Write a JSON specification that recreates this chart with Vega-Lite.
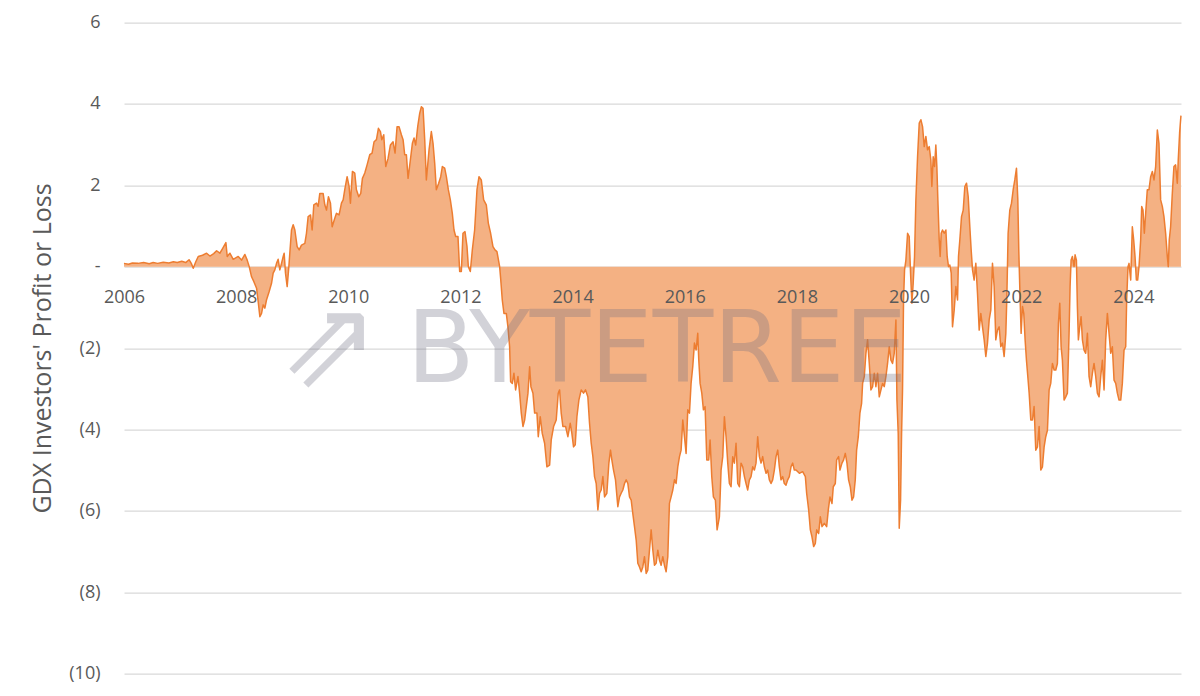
{
  "$schema": "https://vega.github.io/schema/vega-lite/v6.json",
  "width": 1057,
  "height": 651,
  "autosize": {"type": "none"},
  "padding": {"left": 124, "top": 22.5, "right": 19, "bottom": 22.5},
  "background": "white",
  "config": {"view": {"stroke": null}},
  "datasets": {
    "watermark": [
      {"year": 2015.505, "value": -2.836, "label": "BYTETREE"}
    ],
    "logo": [
      {"year": 2009.66, "value": -1.99, "label": "⇗"}
    ],
    "series": [
      {"year":2006.000,"value":0.08},{"year":2006.080,"value":0.06},{"year":2006.150,"value":0.09},{"year":2006.250,"value":0.08},{"year":2006.350,"value":0.10},{"year":2006.450,"value":0.07},{"year":2006.520,"value":0.10},{"year":2006.600,"value":0.08},{"year":2006.700,"value":0.11},{"year":2006.800,"value":0.09},{"year":2006.880,"value":0.12},{"year":2006.950,"value":0.10},{"year":2007.030,"value":0.13},{"year":2007.100,"value":0.10},{"year":2007.160,"value":0.17},{"year":2007.200,"value":0.08},{"year":2007.235,"value":-0.04},{"year":2007.280,"value":0.12},{"year":2007.324,"value":0.25},{"year":2007.400,"value":0.28},{"year":2007.473,"value":0.33},{"year":2007.532,"value":0.26},{"year":2007.600,"value":0.32},{"year":2007.651,"value":0.39},{"year":2007.710,"value":0.33},{"year":2007.760,"value":0.45},{"year":2007.817,"value":0.59},{"year":2007.841,"value":0.25},{"year":2007.888,"value":0.33},{"year":2007.948,"value":0.18},{"year":2008.037,"value":0.25},{"year":2008.097,"value":0.16},{"year":2008.156,"value":0.30},{"year":2008.197,"value":0.16},{"year":2008.233,"value":0.00},{"year":2008.275,"value":-0.25},{"year":2008.316,"value":-0.37},{"year":2008.364,"value":-0.53},{"year":2008.393,"value":-0.86},{"year":2008.423,"value":-1.23},{"year":2008.453,"value":-1.15},{"year":2008.482,"value":-0.94},{"year":2008.512,"value":-1.02},{"year":2008.541,"value":-0.82},{"year":2008.589,"value":-0.61},{"year":2008.631,"value":-0.41},{"year":2008.660,"value":-0.16},{"year":2008.690,"value":-0.08},{"year":2008.720,"value":0.08},{"year":2008.749,"value":0.18},{"year":2008.779,"value":-0.08},{"year":2008.809,"value":0.08},{"year":2008.839,"value":0.25},{"year":2008.856,"value":0.33},{"year":2008.880,"value":-0.16},{"year":2008.910,"value":-0.49},{"year":2008.940,"value":0.00},{"year":2008.957,"value":0.33},{"year":2008.987,"value":0.90},{"year":2009.017,"value":1.03},
      {"year":2009.047,"value":0.90},{"year":2009.088,"value":0.49},{"year":2009.124,"value":0.41},{"year":2009.165,"value":0.53},{"year":2009.225,"value":0.57},{"year":2009.254,"value":0.82},{"year":2009.284,"value":1.23},{"year":2009.326,"value":1.27},{"year":2009.355,"value":0.90},{"year":2009.385,"value":1.52},{"year":2009.433,"value":1.56},{"year":2009.462,"value":1.48},{"year":2009.492,"value":1.80},{"year":2009.551,"value":1.80},{"year":2009.581,"value":1.52},{"year":2009.611,"value":1.39},{"year":2009.646,"value":1.72},{"year":2009.682,"value":1.56},{"year":2009.712,"value":0.98},{"year":2009.759,"value":1.19},{"year":2009.789,"value":1.31},{"year":2009.836,"value":1.27},{"year":2009.878,"value":1.56},{"year":2009.908,"value":1.64},{"year":2009.937,"value":1.89},{"year":2009.979,"value":2.21},{"year":2010.014,"value":1.97},{"year":2010.038,"value":1.56},{"year":2010.074,"value":2.34},{"year":2010.115,"value":2.30},{"year":2010.145,"value":1.89},{"year":2010.187,"value":1.72},{"year":2010.222,"value":1.80},{"year":2010.252,"value":2.17},{"year":2010.294,"value":2.30},{"year":2010.335,"value":2.50},{"year":2010.383,"value":2.75},{"year":2010.424,"value":2.79},{"year":2010.460,"value":3.07},{"year":2010.502,"value":3.12},{"year":2010.537,"value":3.40},{"year":2010.573,"value":3.32},{"year":2010.597,"value":3.12},{"year":2010.632,"value":3.24},{"year":2010.668,"value":2.46},{"year":2010.709,"value":2.66},{"year":2010.751,"value":2.99},{"year":2010.798,"value":3.07},{"year":2010.834,"value":2.79},{"year":2010.870,"value":3.44},{"year":2010.905,"value":3.44},{"year":2010.947,"value":3.24},{"year":2010.977,"value":3.12},{"year":2011.006,"value":2.75},{"year":2011.036,"value":2.75},{"year":2011.066,"value":2.17},{"year":2011.107,"value":2.62},{"year":2011.143,"value":3.03},{"year":2011.173,"value":3.16},{"year":2011.202,"value":2.99},{"year":2011.238,"value":3.44},{"year":2011.274,"value":3.77},{"year":2011.303,"value":3.93},{"year":2011.333,"value":3.89},{"year":2011.363,"value":3.12},{"year":2011.392,"value":2.13},{"year":2011.440,"value":2.87},{"year":2011.481,"value":3.32},{"year":2011.511,"value":3.03},{"year":2011.541,"value":2.54},{"year":2011.570,"value":1.89},{"year":2011.612,"value":2.05},{"year":2011.648,"value":2.21},{"year":2011.677,"value":2.46},{"year":2011.719,"value":2.42},{"year":2011.749,"value":2.21},{"year":2011.784,"value":1.89},{"year":2011.820,"value":1.64},{"year":2011.855,"value":1.31},{"year":2011.885,"value":0.90},{"year":2011.915,"value":0.74},{"year":2011.956,"value":0.74},{"year":2011.986,"value":-0.12},{"year":2012.016,"value":-0.12},{"year":2012.045,"value":0.82},{"year":2012.081,"value":0.86},{"year":2012.117,"value":0.49},{"year":2012.141,"value":0.00},{"year":2012.176,"value":-0.12},{"year":2012.212,"value":0.41},{"year":2012.253,"value":0.90},{"year":2012.295,"value":1.89},{"year":2012.331,"value":2.21},{"year":2012.372,"value":2.13},{"year":2012.414,"value":1.64},{"year":2012.461,"value":1.52},{"year":2012.497,"value":1.07},{"year":2012.538,"value":0.82},{"year":2012.580,"value":0.49},{"year":2012.616,"value":0.41},{"year":2012.651,"value":0.37},{"year":2012.699,"value":0.00},
      {"year":2012.717,"value":-0.29},{"year":2012.746,"value":-0.82},{"year":2012.776,"value":-1.15},{"year":2012.818,"value":-1.15},{"year":2012.847,"value":-1.48},{"year":2012.877,"value":-1.97},{"year":2012.895,"value":-2.83},{"year":2012.925,"value":-2.87},{"year":2012.954,"value":-2.62},{"year":2012.984,"value":-3.03},{"year":2013.026,"value":-2.70},{"year":2013.055,"value":-3.11},{"year":2013.085,"value":-3.60},{"year":2013.115,"value":-3.93},{"year":2013.145,"value":-3.77},{"year":2013.174,"value":-3.44},{"year":2013.204,"value":-3.11},{"year":2013.234,"value":-2.46},{"year":2013.257,"value":-2.95},{"year":2013.293,"value":-3.11},{"year":2013.323,"value":-3.60},{"year":2013.364,"value":-3.60},{"year":2013.388,"value":-4.18},{"year":2013.423,"value":-3.69},{"year":2013.459,"value":-4.10},{"year":2013.501,"value":-4.34},{"year":2013.542,"value":-4.92},{"year":2013.590,"value":-4.88},{"year":2013.619,"value":-4.26},{"year":2013.661,"value":-3.93},{"year":2013.708,"value":-3.77},{"year":2013.744,"value":-3.11},{"year":2013.768,"value":-3.03},{"year":2013.797,"value":-3.60},{"year":2013.827,"value":-3.93},{"year":2013.875,"value":-3.93},{"year":2013.916,"value":-4.18},{"year":2013.958,"value":-3.85},{"year":2013.987,"value":-4.10},{"year":2014.017,"value":-4.43},{"year":2014.047,"value":-4.38},{"year":2014.077,"value":-3.69},{"year":2014.112,"value":-3.28},{"year":2014.154,"value":-3.03},{"year":2014.195,"value":-3.11},{"year":2014.231,"value":-3.03},
      {"year":2014.272,"value":-3.20},{"year":2014.302,"value":-3.85},{"year":2014.332,"value":-4.34},{"year":2014.362,"value":-4.67},{"year":2014.391,"value":-5.16},{"year":2014.421,"value":-5.33},{"year":2014.451,"value":-5.98},{"year":2014.481,"value":-5.57},{"year":2014.510,"value":-5.49},{"year":2014.540,"value":-5.16},{"year":2014.570,"value":-5.66},{"year":2014.611,"value":-5.57},{"year":2014.647,"value":-4.83},{"year":2014.676,"value":-4.51},{"year":2014.700,"value":-4.75},{"year":2014.730,"value":-5.00},{"year":2014.765,"value":-5.24},{"year":2014.807,"value":-5.90},{"year":2014.837,"value":-5.66},{"year":2014.866,"value":-5.57},{"year":2014.896,"value":-5.49},{"year":2014.926,"value":-5.33},{"year":2014.956,"value":-5.24},{"year":2014.985,"value":-5.33},{"year":2015.015,"value":-5.66},{"year":2015.045,"value":-5.74},{"year":2015.074,"value":-6.07},{"year":2015.104,"value":-6.39},{"year":2015.134,"value":-6.72},{"year":2015.163,"value":-7.29},{"year":2015.193,"value":-7.38},{"year":2015.223,"value":-7.50},{"year":2015.252,"value":-7.38},{"year":2015.282,"value":-7.13},{"year":2015.312,"value":-7.54},{"year":2015.341,"value":-7.46},{"year":2015.371,"value":-6.97},{"year":2015.401,"value":-6.47},{"year":2015.431,"value":-6.97},{"year":2015.460,"value":-7.34},{"year":2015.490,"value":-7.29},{"year":2015.520,"value":-6.97},{"year":2015.549,"value":-7.21},{"year":2015.579,"value":-7.34},{"year":2015.609,"value":-7.13},{"year":2015.638,"value":-7.34},{"year":2015.668,"value":-7.50},{"year":2015.698,"value":-7.13},{"year":2015.727,"value":-5.82},{"year":2015.757,"value":-5.66},{"year":2015.787,"value":-5.49},{"year":2015.817,"value":-5.24},{"year":2015.846,"value":-5.33},{"year":2015.876,"value":-4.92},{"year":2015.906,"value":-4.67},{"year":2015.935,"value":-4.51},{"year":2015.965,"value":-3.77},{"year":2015.995,"value":-4.18},{"year":2016.024,"value":-4.59},{"year":2016.054,"value":-3.52},{"year":2016.084,"value":-3.60},{"year":2016.113,"value":-2.87},{"year":2016.143,"value":-2.46},{"year":2016.173,"value":-1.88},{"year":2016.203,"value":-2.05},{"year":2016.232,"value":-1.64},{"year":2016.250,"value":-2.29},{"year":2016.274,"value":-2.87},{"year":2016.304,"value":-3.11},{"year":2016.333,"value":-3.52},{"year":2016.363,"value":-3.44},{"year":2016.393,"value":-4.75},{"year":2016.428,"value":-4.75},{"year":2016.452,"value":-4.26},{"year":2016.482,"value":-5.16},{"year":2016.511,"value":-5.66},{"year":2016.547,"value":-5.74},{"year":2016.577,"value":-6.47},
      {"year":2016.618,"value":-6.15},{"year":2016.648,"value":-5.00},{"year":2016.678,"value":-4.67},{"year":2016.707,"value":-3.69},{"year":2016.737,"value":-4.18},{"year":2016.767,"value":-4.83},{"year":2016.796,"value":-5.33},{"year":2016.826,"value":-5.41},{"year":2016.856,"value":-4.67},{"year":2016.885,"value":-4.83},{"year":2016.915,"value":-4.34},{"year":2016.945,"value":-5.33},{"year":2016.975,"value":-5.41},{"year":2017.004,"value":-4.83},{"year":2017.034,"value":-4.92},{"year":2017.064,"value":-5.16},{"year":2017.093,"value":-5.33},{"year":2017.123,"value":-5.49},{"year":2017.153,"value":-5.24},{"year":2017.182,"value":-5.16},{"year":2017.212,"value":-4.92},{"year":2017.242,"value":-5.00},{"year":2017.271,"value":-4.83},{"year":2017.301,"value":-4.18},{"year":2017.331,"value":-4.67},{"year":2017.361,"value":-4.83},{"year":2017.390,"value":-4.67},{"year":2017.420,"value":-4.92},{"year":2017.450,"value":-5.08},{"year":2017.479,"value":-5.00},{"year":2017.509,"value":-5.24},{"year":2017.539,"value":-5.33},{"year":2017.568,"value":-5.24},{"year":2017.598,"value":-5.00},{"year":2017.628,"value":-4.67},{"year":2017.658,"value":-4.51},{"year":2017.687,"value":-4.92},{"year":2017.717,"value":-5.24},{"year":2017.747,"value":-5.16},{"year":2017.776,"value":-5.33},{"year":2017.806,"value":-5.37},{"year":2017.836,"value":-5.24},{"year":2017.865,"value":-5.16},{"year":2017.895,"value":-4.92},{"year":2017.925,"value":-4.83},{"year":2017.954,"value":-5.00},{"year":2017.984,"value":-5.00},{"year":2018.044,"value":-5.08},{"year":2018.103,"value":-5.04},{"year":2018.151,"value":-5.16},{"year":2018.174,"value":-5.57},{"year":2018.210,"value":-5.98},{"year":2018.240,"value":-6.47},{"year":2018.269,"value":-6.64},{"year":2018.299,"value":-6.88},{"year":2018.329,"value":-6.80},{"year":2018.353,"value":-6.47},{"year":2018.388,"value":-6.56},{"year":2018.418,"value":-6.15},{"year":2018.448,"value":-6.39},{"year":2018.489,"value":-6.31},{"year":2018.531,"value":-6.39},{"year":2018.560,"value":-5.98},{"year":2018.590,"value":-5.66},{"year":2018.626,"value":-5.82},{"year":2018.649,"value":-5.41},{"year":2018.685,"value":-5.33},{"year":2018.709,"value":-4.75},{"year":2018.744,"value":-4.67},{"year":2018.768,"value":-5.00},{"year":2018.804,"value":-4.83},{"year":2018.833,"value":-4.75},{"year":2018.863,"value":-4.59},{"year":2018.893,"value":-4.83},{"year":2018.922,"value":-5.24},{"year":2018.952,"value":-5.41},{"year":2018.982,"value":-5.74},{"year":2019.011,"value":-5.66},{"year":2019.041,"value":-5.24},{"year":2019.065,"value":-4.51},{"year":2019.095,"value":-4.18},{"year":2019.124,"value":-3.60},{"year":2019.154,"value":-3.36},{"year":2019.172,"value":-2.87},{"year":2019.202,"value":-2.70},
      {"year":2019.231,"value":-2.13},{"year":2019.261,"value":-1.80},{"year":2019.291,"value":-2.38},{"year":2019.320,"value":-3.03},{"year":2019.350,"value":-2.95},{"year":2019.380,"value":-2.62},{"year":2019.409,"value":-2.95},{"year":2019.439,"value":-2.62},{"year":2019.469,"value":-3.20},{"year":2019.499,"value":-3.03},{"year":2019.528,"value":-2.87},{"year":2019.558,"value":-2.95},{"year":2019.588,"value":-2.70},{"year":2019.617,"value":-2.38},{"year":2019.647,"value":-1.97},{"year":2019.677,"value":-2.30},{"year":2019.706,"value":-2.38},{"year":2019.736,"value":-2.13},{"year":2019.766,"value":-1.31},{"year":2019.784,"value":-3.28},{"year":2019.807,"value":-4.10},{"year":2019.825,"value":-6.43},{"year":2019.849,"value":-5.74},{"year":2019.867,"value":-4.10},{"year":2019.884,"value":-3.03},{"year":2019.902,"value":-0.82},{"year":2019.920,"value":-0.08},{"year":2019.944,"value":0.16},{"year":2019.974,"value":0.82},{"year":2020.003,"value":0.74},{"year":2020.027,"value":-0.16},{"year":2020.051,"value":-0.90},{"year":2020.074,"value":-0.41},{"year":2020.098,"value":0.25},{"year":2020.122,"value":1.64},{"year":2020.152,"value":2.70},{"year":2020.182,"value":3.53},{"year":2020.211,"value":3.61},{"year":2020.241,"value":3.44},{"year":2020.271,"value":2.95},{"year":2020.300,"value":3.20},{"year":2020.330,"value":2.87},{"year":2020.360,"value":2.95},{"year":2020.389,"value":2.62},{"year":2020.407,"value":1.97},{"year":2020.431,"value":2.70},{"year":2020.455,"value":2.46},{"year":2020.478,"value":2.99},{"year":2020.496,"value":2.46},{"year":2020.514,"value":1.64},{"year":2020.538,"value":0.66},{"year":2020.555,"value":0.25},{"year":2020.573,"value":0.82},{"year":2020.597,"value":0.90},{"year":2020.627,"value":0.82},{"year":2020.657,"value":0.90},{"year":2020.680,"value":0.25},{"year":2020.704,"value":0.00},{"year":2020.728,"value":0.04},{"year":2020.752,"value":-0.16},{"year":2020.775,"value":-1.48},{"year":2020.805,"value":-1.07},{"year":2020.835,"value":-0.49},{"year":2020.865,"value":-0.82},{"year":2020.882,"value":0.25},{"year":2020.906,"value":0.66},{"year":2020.936,"value":1.23},{"year":2020.966,"value":1.39},{"year":2020.995,"value":1.97},{"year":2021.025,"value":2.05},{"year":2021.055,"value":1.72},{"year":2021.084,"value":0.98},{"year":2021.108,"value":0.41},{"year":2021.132,"value":-0.08},{"year":2021.161,"value":-0.33},{"year":2021.191,"value":0.08},{"year":2021.221,"value":-0.66},{"year":2021.251,"value":-1.56},{"year":2021.280,"value":-1.15},{"year":2021.310,"value":-1.48},{"year":2021.340,"value":-1.80},{"year":2021.369,"value":-2.21},{"year":2021.399,"value":-1.88},{"year":2021.429,"value":-1.31},{"year":2021.458,"value":-1.07},{"year":2021.488,"value":0.08},
      {"year":2021.518,"value":-0.49},{"year":2021.547,"value":-1.80},{"year":2021.577,"value":-1.56},{"year":2021.607,"value":-1.48},{"year":2021.636,"value":-1.97},{"year":2021.666,"value":-1.88},{"year":2021.696,"value":-2.21},{"year":2021.726,"value":-1.64},{"year":2021.743,"value":-0.82},{"year":2021.767,"value":0.82},{"year":2021.797,"value":1.39},{"year":2021.827,"value":1.56},{"year":2021.857,"value":1.89},{"year":2021.886,"value":2.13},{"year":2021.916,"value":2.42},{"year":2021.940,"value":1.64},{"year":2021.957,"value":0.41},{"year":2021.981,"value":-0.82},{"year":2021.999,"value":-1.64},{"year":2022.023,"value":-0.98},{"year":2022.046,"value":-1.15},{"year":2022.070,"value":-1.80},{"year":2022.094,"value":-2.30},{"year":2022.118,"value":-2.70},{"year":2022.142,"value":-3.11},{"year":2022.171,"value":-3.77},{"year":2022.201,"value":-3.77},{"year":2022.230,"value":-3.44},{"year":2022.260,"value":-4.51},{"year":2022.290,"value":-4.43},{"year":2022.320,"value":-3.93},{"year":2022.349,"value":-5.00},{"year":2022.379,"value":-4.92},{"year":2022.409,"value":-4.43},{"year":2022.438,"value":-4.18},{"year":2022.468,"value":-4.02},{"year":2022.498,"value":-3.03},{"year":2022.527,"value":-2.87},{"year":2022.557,"value":-2.38},{"year":2022.587,"value":-2.54},{"year":2022.617,"value":-2.54},{"year":2022.646,"value":-2.38},{"year":2022.664,"value":-1.39},{"year":2022.688,"value":-0.90},{"year":2022.712,"value":-1.97},{"year":2022.735,"value":-2.30},{"year":2022.765,"value":-3.28},{"year":2022.795,"value":-3.20},{"year":2022.824,"value":-3.11},{"year":2022.854,"value":-1.64},{"year":2022.872,"value":-0.49},{"year":2022.890,"value":0.16},{"year":2022.913,"value":0.25},{"year":2022.943,"value":0.00},{"year":2022.961,"value":0.29},{"year":2022.985,"value":0.16},{"year":2023.002,"value":-0.98},{"year":2023.020,"value":-1.80},{"year":2023.044,"value":-1.48},{"year":2023.068,"value":-1.23},{"year":2023.092,"value":-1.80},{"year":2023.121,"value":-2.05},{"year":2023.151,"value":-2.13},{"year":2023.181,"value":-1.64},{"year":2023.210,"value":-2.70},{"year":2023.240,"value":-2.95},{"year":2023.270,"value":-2.62},{"year":2023.299,"value":-2.38},{"year":2023.329,"value":-2.70},{"year":2023.359,"value":-3.11},{"year":2023.389,"value":-3.20},{"year":2023.418,"value":-2.70},{"year":2023.448,"value":-2.30},{"year":2023.478,"value":-3.03},{"year":2023.507,"value":-1.80},{"year":2023.537,"value":-1.15},{"year":2023.567,"value":-1.64},{"year":2023.596,"value":-2.13},{"year":2023.626,"value":-1.97},{"year":2023.656,"value":-2.79},{"year":2023.686,"value":-2.87},{"year":2023.715,"value":-3.11},{"year":2023.745,"value":-3.28},{"year":2023.775,"value":-3.28},{"year":2023.804,"value":-2.87},{"year":2023.834,"value":-2.05},{"year":2023.864,"value":-1.97},{"year":2023.881,"value":-0.82},{"year":2023.905,"value":0.00},{"year":2023.923,"value":0.08},{"year":2023.953,"value":-0.33},{"year":2023.982,"value":0.98},{"year":2024.006,"value":0.66},{"year":2024.030,"value":0.25},{"year":2024.054,"value":-0.33},{"year":2024.077,"value":-0.33},{"year":2024.101,"value":0.00},{"year":2024.131,"value":0.66},{"year":2024.149,"value":1.48},{"year":2024.172,"value":1.39},{"year":2024.196,"value":0.82},{"year":2024.220,"value":1.31},{"year":2024.249,"value":1.89},{"year":2024.279,"value":1.89},{"year":2024.309,"value":2.21},{"year":2024.339,"value":2.34},{"year":2024.368,"value":2.13},{"year":2024.398,"value":2.46},{"year":2024.428,"value":3.36},{"year":2024.457,"value":3.03},{"year":2024.487,"value":1.64},{"year":2024.517,"value":1.48},{"year":2024.546,"value":1.23},{"year":2024.576,"value":0.82},{"year":2024.606,"value":0.25},{"year":2024.623,"value":0.00},{"year":2024.641,"value":0.66},{"year":2024.665,"value":0.98},{"year":2024.695,"value":1.80},{"year":2024.724,"value":2.46},{"year":2024.754,"value":2.50},{"year":2024.784,"value":2.05},{"year":2024.801,"value":2.62},{"year":2024.825,"value":3.28},{"year":2024.849,"value":3.71}
    ]
  },
  "encoding": {
    "x": {
      "field": "year",
      "type": "quantitative",
      "scale": {"domain": [2006, 2024.85], "nice": false, "zero": false},
      "axis": {
        "title": null,
        "values": [2006, 2008, 2010, 2012, 2014, 2016, 2018, 2020, 2022, 2024],
        "format": "d",
        "grid": false,
        "domain": false,
        "ticks": false,
        "offset": -407,
        "labelPadding": 22,
        "labelFont": "Open Sans",
        "labelFontSize": 18,
        "labelColor": "#595959",
        "labelFlush": false,
        "labelOverlap": false,
        "labelBound": false,
        "zindex": 2
      }
    },
    "y": {
      "field": "value",
      "type": "quantitative",
      "scale": {"domain": [-10, 6], "nice": false, "zero": false},
      "axis": {
        "title": "GDX Investors' Profit or Loss",
        "values": [-10, -8, -6, -4, -2, 0, 2, 4, 6],
        "grid": true,
        "gridColor": "#D9D9D9",
        "gridWidth": 1.25,
        "domain": false,
        "ticks": false,
        "labelPadding": 24,
        "labelFont": "Open Sans",
        "labelFontSize": 18,
        "labelColor": "#595959",
        "labelOverlap": false,
        "labelExpr": "datum.value == 0 ? '-' : (datum.value < 0 ? '(' + format(-datum.value, 'd') + ')' : format(datum.value, 'd'))",
        "titleFont": "Open Sans",
        "titleFontSize": 25,
        "titleFontWeight": "normal",
        "titleColor": "#595959",
        "titleX": -74,
        "titleY": 325.5,
        "titleAngle": -90,
        "titleAlign": "center",
        "titleBaseline": "alphabetic",
        "zindex": 0
      }
    }
  },
  "layer": [
    {
      "data": {"name": "series"},
      "mark": {"type": "area", "color": "#F4B183", "opacity": 1},
      "encoding": {"y2": {"datum": 0}}
    },
    {
      "data": {"name": "series"},
      "mark": {"type": "line", "color": "#ED7D31", "strokeWidth": 1.5, "strokeJoin": "round"},
      "encoding": {}
    },
    {
      "data": {"name": "watermark"},
      "mark": {"type": "text", "font": "DejaVu Sans", "fontSize": 99, "color": "#6E6E82", "opacity": 0.3, "align": "center", "baseline": "alphabetic"},
      "encoding": {"text": {"field": "label"}}
    },
    {
      "data": {"name": "logo"},
      "mark": {"type": "text", "font": "DejaVu Sans", "fontSize": 122, "color": "#6E6E82", "opacity": 0.3, "align": "center", "baseline": "middle"},
      "encoding": {"text": {"field": "label"}}
    }
  ]
}
